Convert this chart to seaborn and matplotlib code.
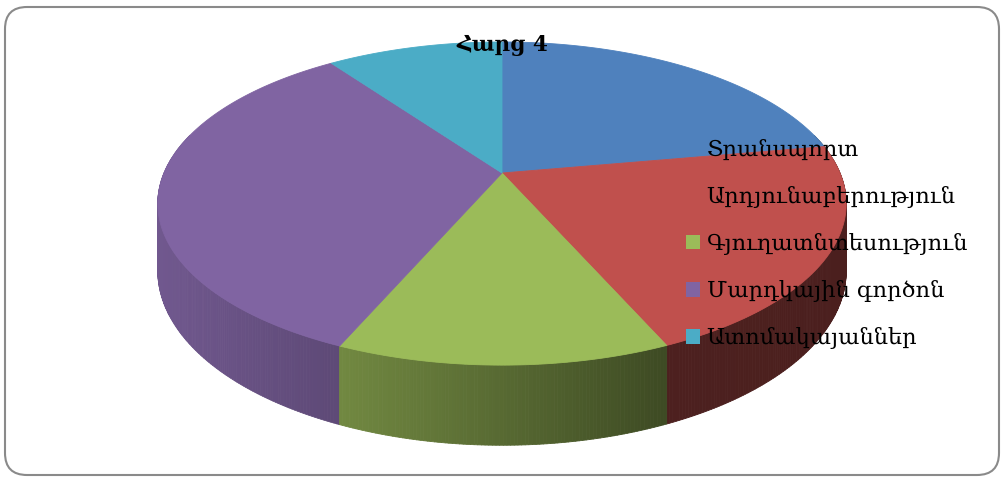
import numpy as np
import matplotlib
matplotlib.use("Agg")
import matplotlib.pyplot as plt
import seaborn as sns
from matplotlib.patches import Polygon, Patch, FancyBboxPatch
from matplotlib.collections import PolyCollection
from matplotlib.colors import to_rgb

# ---- data ----
categories = ["Տրանսպորտ", "Արդյունաբերություն", "Գյուղատնտեսություն",
              "Մարդկային գործոն", "Ատոմակայաններ"]
values = [22.2, 21.2, 13.1, 33.6, 9.9]
title = "Հարց 4"
colors = ["#4F81BD", "#C0504D", "#9BBB59", "#8064A2", "#4BACC6"]

sns.set_theme(style="white")
plt.rcParams['font.family'] = ['DejaVu Serif', 'DejaVu Sans']
plt.rcParams['text.color'] = 'black'

W, H = 1004, 479
fig = plt.figure(figsize=(W / 100, H / 100), dpi=100)
ax = fig.add_axes([0, 0, 1, 1])
ax.set_xlim(0, W)
ax.set_ylim(H, 0)
ax.axis('off')

# rounded frame
frame = FancyBboxPatch((5, 7), 994, 468, boxstyle="round,pad=0,rounding_size=22",
                       fc="white", ec="#8a8a8a", lw=1.5, zorder=0)
ax.add_patch(frame)

# perspective pie geometry
cx, cy, R, B, K, D = 502, 173, 338, 155.8, 0.189, 65


def proj(theta, bottom=False):
    sx = np.sin(theta)
    zn = -np.cos(theta)
    s = 1 / (1 - K * zn)
    x = cx + R * sx * s
    y = cy + B * zn * s + (D * s if bottom else 0)
    return x, y


def shade(x):
    return np.interp(x, [158, 341, 663, 850], [0.88, 0.73, 0.40, 0.39])


frac = np.array(values, dtype=float) / np.sum(values)
edges = np.concatenate([[0], np.cumsum(frac)]) * 2 * np.pi

# side walls
quads, qcols, depth = [], [], []
for i, c in enumerate(colors):
    a0, a1 = edges[i], edges[i + 1]
    n = max(4, int((a1 - a0) / (2 * np.pi) * 720))
    th = np.linspace(a0, a1, n + 1)
    base = np.array(to_rgb(c))
    for t0, t1 in zip(th[:-1], th[1:]):
        tm = 0.5 * (t0 + t1)
        zn = -np.cos(tm)
        if zn < -0.25:
            continue
        x0, y0 = proj(t0)
        x1, y1 = proj(t1)
        x0b, y0b = proj(t0, True)
        x1b, y1b = proj(t1, True)
        quads.append([(x0, y0), (x1, y1), (x1b, y1b), (x0b, y0b)])
        xm = 0.5 * (x0 + x1)
        qcols.append(tuple(np.clip(base * shade(xm), 0, 1)))
        depth.append(zn)
order = np.argsort(depth)
pc = PolyCollection([quads[j] for j in order], facecolors=[qcols[j] for j in order],
                    edgecolors=[qcols[j] for j in order], linewidths=0.6, zorder=2)
ax.add_collection(pc)

# top faces
for i, c in enumerate(colors):
    th = np.linspace(edges[i], edges[i + 1], 200)
    pts = [(cx, cy)] + [proj(t) for t in th]
    ax.add_patch(Polygon(pts, closed=True, fc=c, ec=c, lw=0.6, zorder=3))

# title
ax.text(502, 45, title, ha="center", va="center", fontsize=15.5, fontweight="bold",
        color="black", zorder=5)

# legend
handles = [Patch(facecolor=c, edgecolor="none") for c in colors]
leg = ax.legend(handles, categories, loc="center left", bbox_to_anchor=(686, 244),
                bbox_transform=ax.transData, frameon=False, fontsize=16.2,
                handlelength=0.62, handleheight=0.62, handletextpad=0.3,
                labelspacing=1.12, borderpad=0, borderaxespad=0, labelcolor="black")
leg.set_zorder(6)

fig.savefig("out.png", dpi=100)
